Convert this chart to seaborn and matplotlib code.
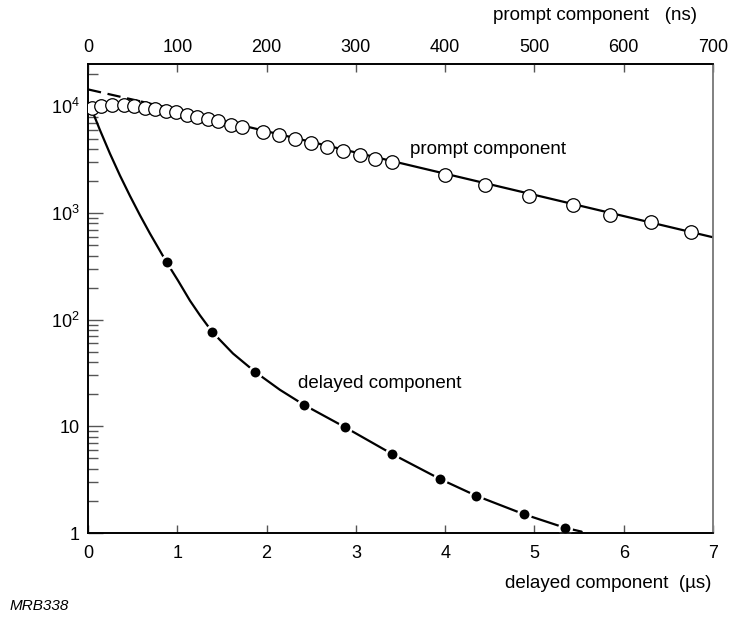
import numpy as np
import pandas as pd
import matplotlib
matplotlib.use("Agg")
import matplotlib.pyplot as plt
import seaborn as sns

# prompt component (top axis, ns) - open circles
prompt_t = [4, 15, 27, 40, 52, 64, 75, 87, 99, 111, 122, 134, 146, 160, 172,
            196, 214, 232, 250, 268, 286, 305, 322, 341,
            400, 445, 494, 543, 585, 631, 675]
prompt_v = [9720, 10070, 10220, 10220, 10070, 9720, 9370, 9120, 8840, 8360, 7890,
            7550, 7230, 6770, 6390, 5780, 5420, 4970, 4560, 4180, 3840, 3540,
            3230, 3000, 2300, 1850, 1460, 1200, 950, 820, 666]

# straight fit through prompt points (dashed part, then solid)
prompt_fit_t = [0, 60, 700]
prompt_fit_v = [14450, 11100, 593]

# delayed component (bottom axis, us) - filled dots
delayed_t = [0.881, 1.392, 1.870, 2.419, 2.881, 3.404, 3.942, 4.345, 4.882, 5.341]
delayed_v = [345, 76.7, 32.5, 15.9, 9.79, 5.52, 3.21, 2.24, 1.50, 1.12]

# curve drawn through the delayed points
delayed_fit_t = [0.041, 0.056, 0.134, 0.246, 0.358, 0.470, 0.582, 0.694, 0.881,
                 1.008, 1.142, 1.254, 1.392, 1.624, 1.870, 2.150, 2.419, 2.881,
                 3.404, 3.942, 4.345, 4.882, 5.341, 5.529]
delayed_fit_v = [9720, 8730, 6000, 3610, 2250, 1450, 955, 643, 345,
                 233, 151, 110, 76.7, 48.2, 32.5, 22.0, 15.9, 9.79,
                 5.52, 3.21, 2.24, 1.50, 1.12, 1.03]

y_ticks = [1, 10, 100, 1000, 10000]
y_tick_labels = ["1", "10", "10$^2$", "10$^3$", "10$^4$"]

sns.set_theme(style="ticks")
plt.rcParams["font.family"] = ["Liberation Sans", "DejaVu Sans"]
plt.rcParams["mathtext.fontset"] = "custom"
plt.rcParams["mathtext.rm"] = "Liberation Sans"
plt.rcParams["mathtext.it"] = "Liberation Sans:italic"
plt.rcParams["text.color"] = "black"
plt.rcParams["axes.labelcolor"] = "black"
plt.rcParams["xtick.color"] = "black"
plt.rcParams["ytick.color"] = "black"

W, H = 729, 621
fig = plt.figure(figsize=(W / 100, H / 100), dpi=100)
ax = fig.add_axes([88 / W, 1 - 533 / H, (713 - 88) / W, (533 - 64) / H])

# delayed curve + dots on bottom axis
df_dfit = pd.DataFrame({"t": delayed_fit_t, "v": delayed_fit_v})
sns.lineplot(data=df_dfit, x="t", y="v", ax=ax, color="black", lw=1.6,
             sort=False, estimator=None)
df_del = pd.DataFrame({"t": delayed_t, "v": delayed_v})
sns.scatterplot(data=df_del, x="t", y="v", ax=ax, color="black", s=80,
                edgecolor="white", linewidth=1.8, zorder=3)

ax.set_yscale("log")
ax.set_xlim(0, 7)
ax.set_ylim(1, 25000)
ax.set_xticks(range(8))
ax.set_yticks(y_ticks)
ax.set_yticklabels(y_tick_labels)
ax.set_xlabel("")
ax.set_ylabel("")
ax.tick_params(axis="x", which="major", direction="in", length=6, width=1,
               color="#555555", labelcolor="black", labelsize=13, pad=9,
               bottom=True, top=False)
ax.tick_params(axis="x", which="minor", bottom=False, top=False)
ax.tick_params(axis="y", which="major", direction="in", length=11, width=1,
               color="#555555", labelcolor="black", labelsize=13, pad=6,
               left=True, right=False)
ax.tick_params(axis="y", which="minor", direction="in", length=7, width=1,
               color="#555555", left=True, right=False)

# prompt component on top axis
ax2 = ax.twiny()
df_pfit = pd.DataFrame({"t": prompt_fit_t, "v": prompt_fit_v})
sns.lineplot(data=df_pfit.iloc[:2], x="t", y="v", ax=ax2, color="black", lw=1.6,
             linestyle=(0, (6, 3)), estimator=None)
sns.lineplot(data=df_pfit.iloc[1:], x="t", y="v", ax=ax2, color="black", lw=1.6,
             estimator=None)
df_pr = pd.DataFrame({"t": prompt_t, "v": prompt_v})
sns.scatterplot(data=df_pr, x="t", y="v", ax=ax2, color="white", s=95,
                edgecolor="black", linewidth=0.9, zorder=3)
ax2.set_xlim(0, 700)
ax2.set_xticks(range(0, 701, 100))
ax2.set_xlabel("")
ax2.set_ylabel("")
ax2.tick_params(axis="x", which="major", direction="in", length=6, width=1,
                color="#555555", labelcolor="black", labelsize=13, pad=6,
                top=True, bottom=False)
ax2.tick_params(axis="x", which="minor", bottom=False, top=False)

for a in (ax, ax2):
    for side in ("left", "top", "bottom"):
        a.spines[side].set_color("black")
        a.spines[side].set_linewidth(1.2)
    a.spines["right"].set_visible(True)
    a.spines["right"].set_color("#808080")
    a.spines["right"].set_linewidth(1.2)

ax2.text(361, 3950, "prompt component", fontsize=13.5, ha="left", va="center")
ax.text(2.35, 25, "delayed component", fontsize=13.5, ha="left", va="center")

fig.text(697 / W, 1 - 15 / H, "prompt component   (ns)", fontsize=13.5,
         ha="right", va="center")
fig.text(711 / W, 1 - 583 / H, "delayed component  (\u00b5s)", fontsize=13.5,
         ha="right", va="center")
fig.text(10 / W, 1 - 606 / H, "MRB338", fontsize=11, style="italic",
         ha="left", va="center")

fig.savefig("out.png", dpi=100)
